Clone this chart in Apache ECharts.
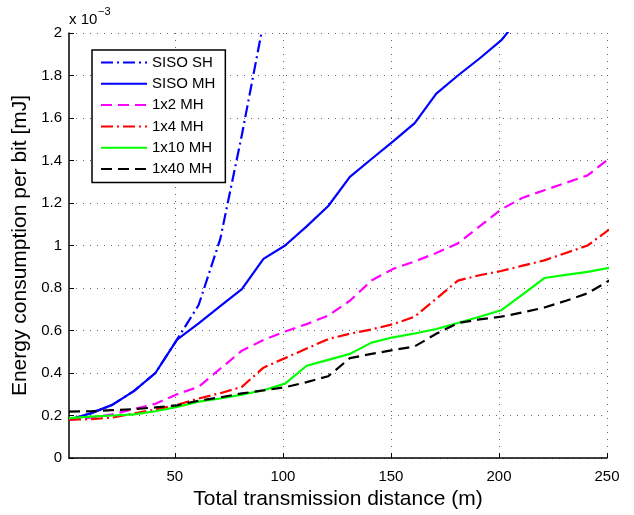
<!DOCTYPE html>
<html>
<head>
<meta charset="utf-8">
<script src="https://cdn.jsdelivr.net/npm/echarts@6/dist/echarts.min.js"></script>
<style>
  html, body { margin: 0; padding: 0; background: #fff; }
  #chart { width: 634px; height: 515px; }
</style>
</head>
<body>
<div id="chart"></div>
<script>
// Distances (m) at which the energy per bit was evaluated
const distances = [1, 11, 21, 31, 41, 51, 61, 71, 81, 91, 101, 111, 121, 131, 141, 151, 161, 171, 181, 191, 201, 211, 221, 231, 241, 251];

// Energy consumption per bit, in units of 1e-3 mJ
const sisoSH  = [0.18, 0.21, 0.25, 0.315, 0.40, 0.557, 0.72, 1.03, 1.52, 2.05];
const sisoMH  = [0.18, 0.21, 0.25, 0.315, 0.40, 0.557, 0.634, 0.715, 0.795, 0.937, 1.0, 1.09, 1.186, 1.323, 1.407, 1.49, 1.576, 1.715, 1.80, 1.88, 1.965, 2.09];
const mh1x2   = [0.18, 0.19, 0.205, 0.23, 0.255, 0.30, 0.335, 0.42, 0.505, 0.555, 0.595, 0.63, 0.67, 0.74, 0.835, 0.89, 0.925, 0.965, 1.01, 1.09, 1.17, 1.225, 1.26, 1.295, 1.33, 1.41];
const mh1x4   = [0.18, 0.183, 0.19, 0.21, 0.228, 0.25, 0.28, 0.305, 0.335, 0.425, 0.47, 0.515, 0.56, 0.585, 0.605, 0.63, 0.665, 0.75, 0.835, 0.86, 0.88, 0.905, 0.93, 0.965, 1.0, 1.075];
const mh1x10  = [0.188, 0.195, 0.20, 0.205, 0.22, 0.24, 0.265, 0.28, 0.298, 0.319, 0.35, 0.434, 0.462, 0.49, 0.543, 0.568, 0.586, 0.607, 0.635, 0.665, 0.695, 0.77, 0.847, 0.862, 0.876, 0.895];
const mh1x40  = [0.218, 0.22, 0.225, 0.23, 0.238, 0.248, 0.27, 0.285, 0.304, 0.318, 0.333, 0.357, 0.385, 0.47, 0.49, 0.508, 0.525, 0.585, 0.635, 0.652, 0.665, 0.685, 0.708, 0.74, 0.775, 0.835];

// Axis ticks
const xTicks = [50, 100, 150, 200, 250];
const yMin = 0, yMax = 2, yStep = 0.2;

const FONT = "'Liberation Sans', Arial, Helvetica, sans-serif";

function pairs(values) {
  return values.map((v, i) => [distances[i], v]);
}

function lineSeries(name, values, color, dash) {
  return {
    name: name,
    type: 'line',
    data: pairs(values),
    symbol: 'none',
    showSymbol: false,
    clip: true,
    animation: false,
    lineStyle: { color: color, width: 2.2, type: dash },
    itemStyle: { color: color }
  };
}

const chart = echarts.init(document.getElementById('chart'), null, { renderer: 'canvas' });

const dotted = { color: '#666', width: 1, type: [1, 6] };

chart.setOption({
  backgroundColor: '#fff',
  animation: false,
  textStyle: { fontFamily: FONT },
  grid: { left: 69, right: 27, top: 33, bottom: 47, containLabel: false },
  xAxis: {
    type: 'value',
    min: 1,
    max: 250,
    name: 'Total transmission distance (m)',
    nameLocation: 'middle',
    nameGap: 31,
    nameTextStyle: { fontSize: 21, color: '#000', fontFamily: FONT },
    axisLine: { show: true, onZero: false, lineStyle: { color: '#000', width: 1.5 } },
    axisTick: { show: true, inside: true, length: 5, customValues: xTicks, lineStyle: { color: '#000', width: 1 } },
    axisLabel: { customValues: xTicks, fontSize: 15, color: '#000', margin: 11, fontFamily: FONT },
    splitLine: { show: true, lineStyle: dotted }
  },
  yAxis: {
    type: 'value',
    min: yMin,
    max: yMax,
    interval: yStep,
    name: 'Energy consumption per bit [mJ]',
    nameLocation: 'middle',
    nameGap: 33,
    nameRotate: 90,
    nameTextStyle: { fontSize: 21, color: '#000', fontFamily: FONT },
    axisLine: { show: true, lineStyle: { color: '#000', width: 1.5 } },
    axisTick: { show: true, inside: true, length: 5, lineStyle: { color: '#000', width: 1 } },
    axisLabel: { fontSize: 15, color: '#000', margin: 7, fontFamily: FONT },
    splitLine: { show: true, lineStyle: dotted }
  },
  legend: {
    orient: 'vertical',
    left: 92,
    top: 50,
    backgroundColor: '#fff',
    borderColor: '#000',
    borderWidth: 1.5,
    padding: [5, 10, 6, 8],
    itemWidth: 46,
    itemHeight: 14,
    itemGap: 6.3,
    selectedMode: false,
    itemStyle: { opacity: 0, borderWidth: 0 },
    lineStyle: { opacity: 1 },
    textStyle: { fontSize: 15, color: '#000', fontFamily: FONT },
    data: ['SISO SH', 'SISO MH', '1x2 MH', '1x4 MH', '1x10 MH', '1x40 MH']
  },
  graphic: [
    {
      type: 'text',
      left: 69,
      top: 12,
      style: { text: 'x 10', fontSize: 15, fill: '#000', fontFamily: FONT }
    },
    {
      type: 'text',
      left: 98,
      top: 6,
      style: { text: '\u22123', fontSize: 11, fill: '#000', fontFamily: FONT }
    }
  ],
  series: [
    lineSeries('SISO SH', sisoSH, '#0000ff', [12, 4, 2, 4]),
    lineSeries('SISO MH', sisoMH, '#0000ff', 'solid'),
    lineSeries('1x2 MH', mh1x2, '#ff00ff', [11, 6]),
    lineSeries('1x4 MH', mh1x4, '#ff0000', [12, 4, 2, 4]),
    lineSeries('1x10 MH', mh1x10, '#00ff00', 'solid'),
    lineSeries('1x40 MH', mh1x40, '#000000', [11, 6])
  ]
});
</script>
</body>
</html>
